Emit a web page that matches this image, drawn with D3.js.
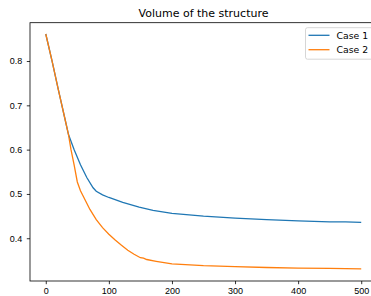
<!DOCTYPE html>
<html>
<head>
<meta charset="utf-8">
<script src="https://cdn.jsdelivr.net/npm/d3@7"></script>
<style>
  html, body { margin: 0; padding: 0; background: #fff; overflow: hidden; }
  svg { display: block; font-family: "DejaVu Sans", sans-serif; }
</style>
</head>
<body>
<div id="chart"></div>
<script>
// Volume of the structure, two cases
const case1X = [0, 10, 20, 30, 36, 45, 55, 65, 75, 80, 90, 100, 122, 148, 170, 200, 250, 300, 350, 400, 450, 475, 500];
const case1Y = [0.861, 0.80, 0.735, 0.672, 0.634, 0.600, 0.566, 0.537, 0.514, 0.506, 0.498, 0.492, 0.481, 0.470, 0.463, 0.456, 0.450, 0.4456, 0.442, 0.439, 0.437, 0.437, 0.436];
const case2X = [0, 10, 20, 30, 36, 40, 45, 50, 55, 60, 70, 80, 90, 100, 110, 120, 130, 140, 150, 155, 160, 175, 200, 250, 300, 350, 400, 450, 500];
const case2Y = [0.861, 0.80, 0.735, 0.672, 0.634, 0.600, 0.565, 0.527, 0.507, 0.493, 0.465, 0.442, 0.424, 0.409, 0.396, 0.384, 0.373, 0.364, 0.356, 0.355, 0.352, 0.348, 0.342, 0.338, 0.336, 0.334, 0.3326, 0.332, 0.331];
const seriesNames = ['Case 1', 'Case 2'];
const seriesColors = ['#1f77b4', '#ff7f0e'];
const xTicks = [0, 100, 200, 300, 400, 500];
const yTicks = [0.4, 0.5, 0.6, 0.7, 0.8];

const W = 371, H = 296;
const margin = { top: 22.7, right: -6, bottom: 15, left: 30 };
const width = W - margin.left - margin.right;
const height = H - margin.top - margin.bottom;

const svg = d3.select('#chart').append('svg')
  .attr('width', W)
  .attr('height', H);

const g = svg.append('g')
  .attr('transform', `translate(${margin.left},${margin.top})`);

const x = d3.scaleLinear().domain([-25, 525]).range([0, width]);
const y = d3.scaleLinear().domain([0.3035, 0.8865]).range([height, 0]);

// axes
const xAxis = g.append('g')
  .attr('transform', `translate(0,${height})`)
  .call(d3.axisBottom(x).tickValues(xTicks).tickSize(3.2).tickPadding(3.2));
const yAxis = g.append('g')
  .call(d3.axisLeft(y).tickValues(yTicks).tickFormat(d3.format('.1f')).tickSize(3.2).tickPadding(4.5));
[xAxis, yAxis].forEach(a => {
  a.select('.domain').remove();
  a.selectAll('line').attr('stroke', '#000').attr('stroke-width', 0.8);
  a.selectAll('text').attr('fill', '#000').style('font-size', '9px');
});

// lines
const line = d3.line().x(d => x(d[0])).y(d => y(d[1]));
const series = [
  d3.zip(case1X, case1Y),
  d3.zip(case2X, case2Y)
];
series.forEach((pts, i) => {
  g.append('path')
    .datum(pts)
    .attr('fill', 'none')
    .attr('stroke', seriesColors[i])
    .attr('stroke-width', 1.3)
    .attr('d', line);
});

// frame
g.append('rect')
  .attr('width', width)
  .attr('height', height)
  .attr('fill', 'none')
  .attr('stroke', '#000')
  .attr('stroke-width', 0.8);

// title
g.append('text')
  .attr('x', width / 2)
  .attr('y', -6)
  .attr('text-anchor', 'middle')
  .style('font-size', '11px')
  .text('Volume of the structure');

// legend
const lg = g.append('g').attr('transform', `translate(${width - 71.5},5)`);
lg.append('rect')
  .attr('width', 68).attr('height', 31.5)
  .attr('rx', 2)
  .attr('fill', '#fff').attr('fill-opacity', 0.8)
  .attr('stroke', '#ccc').attr('stroke-width', 0.8);
seriesNames.forEach((name, i) => {
  const yy = 7.6 + i * 14.4;
  lg.append('line')
    .attr('x1', 3).attr('x2', 24)
    .attr('y1', yy).attr('y2', yy)
    .attr('stroke', seriesColors[i])
    .attr('stroke-width', 1.3);
  lg.append('text')
    .attr('x', 31).attr('y', yy)
    .attr('dy', '0.35em')
    .style('font-size', '9.3px')
    .text(name);
});
</script>
</body>
</html>
